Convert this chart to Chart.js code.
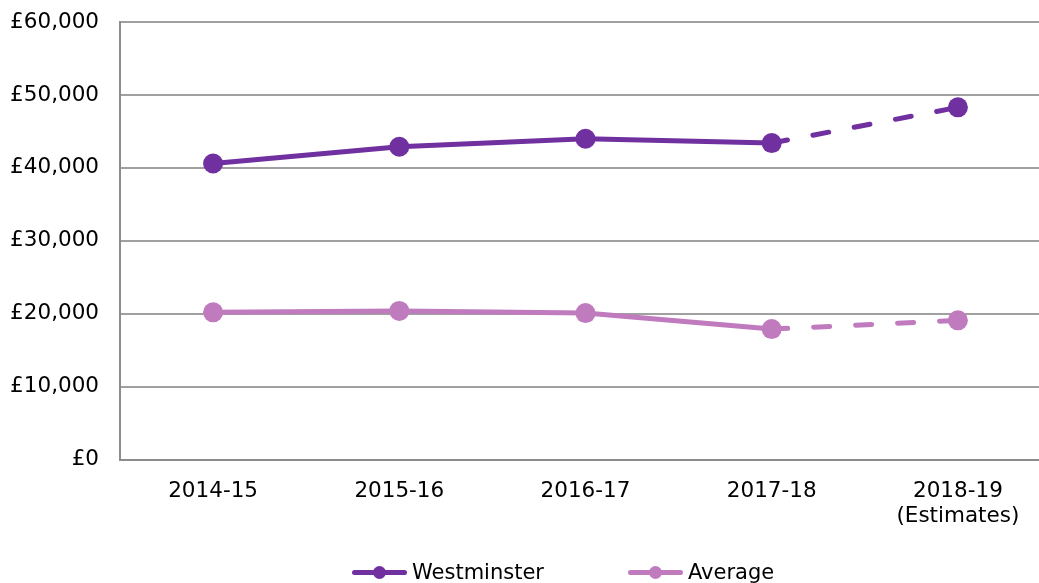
<!DOCTYPE html>
<html>
<head>
<meta charset="utf-8">
<script src="https://cdn.jsdelivr.net/npm/chart.js@4/dist/chart.umd.min.js"></script>
<style>
  html, body { margin: 0; padding: 0; background: #fff; overflow: hidden; }
  #wrap { position: relative; width: 1039px; height: 583px; overflow: hidden; }
  #c { position: absolute; left: 0; top: 0; }
  #legend { position: absolute; top: 559px; left: 352px; display: flex; align-items: center;
            font-family: "DejaVu Sans", Verdana, sans-serif; font-size: 21px; color: #000; }
  .item { display: flex; align-items: center; height: 26px; }
  .mk { position: relative; width: 55px; height: 14px; margin-right: 5px; }
  .mk .ln { position: absolute; left: 0; right: 0; top: 5px; height: 5px; border-radius: 3px; }
  .mk .dt { position: absolute; left: 21px; top: 1px; width: 13px; height: 13px; border-radius: 50%; }
</style>
</head>
<body>
<div id="wrap">
  <canvas id="c" width="1061" height="583"></canvas>
  <div id="legend"></div>
</div>
<script>
const categories = ['2014-15', '2015-16', '2016-17', '2017-18', ['2018-19', '(Estimates)']];
const westminster = [40600, 42900, 44000, 43400, 48300];
const average = [20200, 20400, 20100, 17900, 19100];
const yTicks = [0, 10000, 20000, 30000, 40000, 50000, 60000];
const seriesNames = ['Westminster', 'Average'];
const seriesColors = ['#7030A0', '#C07BBE'];

const estimateDash = ctx => (ctx.p1DataIndex === categories.length - 1 ? [16, 26] : undefined);

const makeDataset = (label, data, color) => ({
  label, data,
  borderColor: color, backgroundColor: color,
  borderWidth: 5, borderCapStyle: 'round', borderJoinStyle: 'round',
  pointRadius: 10, pointHoverRadius: 10, pointBorderWidth: 0,
  pointBackgroundColor: color, pointBorderColor: color,
  tension: 0, fill: false,
  segment: { borderDash: estimateDash }
});

const font = { family: '"DejaVu Sans", Verdana, sans-serif', size: 21.5 };

new Chart(document.getElementById('c'), {
  type: 'line',
  data: {
    labels: categories,
    datasets: [
      makeDataset(seriesNames[0], westminster, seriesColors[0]),
      makeDataset(seriesNames[1], average, seriesColors[1])
    ]
  },
  options: {
    responsive: false, animation: false, devicePixelRatio: 1,
    layout: { padding: { left: 0, right: 1, top: 22, bottom: 35 } },
    plugins: { legend: { display: false }, tooltip: { enabled: false } },
    scales: {
      x: {
        offset: true,
        grid: { display: false, drawTicks: false },
        border: { display: true, color: '#8C8C8C', width: 2 },
        ticks: { font: { ...font, lineHeight: 1.17 }, color: '#000', padding: 19, maxRotation: 0, autoSkip: false }
      },
      y: {
        min: yTicks[0], max: yTicks[yTicks.length - 1],
        afterBuildTicks: axis => { axis.ticks = yTicks.map(v => ({ value: v })); },
        afterFit: axis => { axis.width = 120; axis.paddingTop = 0; axis.paddingBottom = 0; },
        grid: { color: '#A0A0A0', lineWidth: 2, drawTicks: false },
        border: { display: true, color: '#8C8C8C', width: 2 },
        ticks: { font: { ...font, lineHeight: 1.0 }, color: '#000', padding: 21,
                 callback: v => '£' + Number(v).toLocaleString('en-GB') }
      }
    }
  }
});

const legend = document.getElementById('legend');
seriesNames.forEach((name, i) => {
  const item = document.createElement('div');
  item.className = 'item';
  if (i > 0) item.style.marginLeft = '84px';
  item.innerHTML = '<div class="mk"><div class="ln" style="background:' + seriesColors[i] +
    '"></div><div class="dt" style="background:' + seriesColors[i] + '"></div></div><span>' + name + '</span>';
  legend.appendChild(item);
});
</script>
</body>
</html>
